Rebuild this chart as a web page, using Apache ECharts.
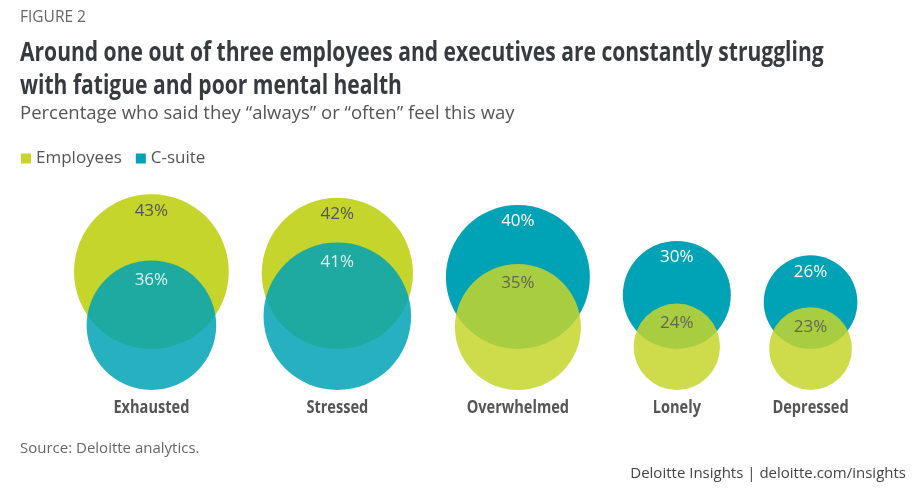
<!doctype html>
<html>
<head>
<meta charset="utf-8">
<title>Fatigue and mental health</title>
<script src="https://cdn.jsdelivr.net/npm/echarts@6/dist/echarts.min.js"></script>
</head>
<body style="margin:0;padding:0;background:#fff">
<div id="chart" style="width:913px;height:502px"></div>
<script>
var categories = ['Exhausted', 'Stressed', 'Overwhelmed', 'Lonely', 'Depressed'];
var employees = [43, 42, 35, 24, 23];
var csuite = [36, 41, 40, 30, 26];

// 1 axis unit = 1.8px, so a circle's radius in units is its value
var PX = 1.8;
var GAP = 18.3;   // space between pairs, in units
var LIFT = 22.8;  // bottom of the back circle sits this far above the baseline
var GREEN = '#c5d52b', TEAL = '#00a2b5';
var SANS = "'Open Sans', sans-serif";
var SQUEEZE = 0.81; // no condensed face installed, so bold text is narrowed

// x centre of each pair, packed left to right by the larger circle
var centers = [], xEnd = 0;
categories.forEach(function (c, i) {
    var m = Math.max(employees[i], csuite[i]);
    centers.push(xEnd + m);
    xEnd += 2 * m + GAP;
});
xEnd -= GAP;
var yMax = 120;

function points(values, other, front) {
    var out = [];
    values.forEach(function (v, i) {
        var isBack = v > other[i];
        if (isBack === front) return;
        out.push({ value: [centers[i], front ? v : LIFT + v, v] });
    });
    return out;
}

function circles(name, values, other, front, color, textColor) {
    return {
        name: name,
        type: 'scatter',
        z: front ? 3 : 2,
        data: points(values, other, front),
        symbolSize: function (val) { return val[2] * 2 * PX; },
        itemStyle: { color: color, opacity: front ? 0.85 : 1 },
        label: {
            show: true,
            position: 'insideTop',
            distance: front ? 11 : 8,
            formatter: function (p) { return p.value[2] + '%'; },
            color: textColor,
            fontSize: 17,
            fontFamily: SANS
        },
        emphasis: { disabled: true }
    };
}

var chart = echarts.init(document.getElementById('chart'));
chart.setOption({
    animation: false,
    backgroundColor: '#fff',
    title: [
        { text: 'FIGURE 2', left: 20, top: 10, padding: 0,
          textStyle: { fontSize: 15.5, fontWeight: 'normal', color: '#666', fontFamily: SANS } },
        { text: 'Percentage who said they \u201calways\u201d or \u201coften\u201d feel this way', left: 20, top: 104, padding: 0,
          textStyle: { fontSize: 18.5, fontWeight: 'normal', color: '#555', fontFamily: SANS } },
        { text: 'Source: Deloitte analytics.', left: 20, top: 441, padding: 0,
          textStyle: { fontSize: 15, fontWeight: 'normal', color: '#666', fontFamily: SANS } },
        { text: 'Deloitte Insights | deloitte.com/insights', right: 7, top: 466, padding: 0,
          textStyle: { fontSize: 15, fontWeight: 'normal', color: '#444', fontFamily: SANS } }
    ],
    legend: {
        left: 16, top: 145,
        icon: 'rect', itemWidth: 10, itemHeight: 10, itemGap: 14,
        data: ['Employees', 'C-suite'],
        textStyle: { fontSize: 17, color: '#555', fontFamily: SANS }
    },
    grid: { left: 74, top: 390 - yMax * PX, width: xEnd * PX, height: yMax * PX },
    xAxis: { type: 'value', min: 0, max: xEnd, show: false },
    yAxis: { type: 'value', min: 0, max: yMax, show: false },
    color: [GREEN, TEAL],
    series: [
        circles('Employees', employees, csuite, false, GREEN, '#555'),
        circles('C-suite', csuite, employees, false, TEAL, '#fff'),
        circles('Employees', employees, csuite, true, GREEN, '#555'),
        circles('C-suite', csuite, employees, true, TEAL, '#fff')
    ]
});

// headline and category names, narrowed horizontally
var texts = [{
    type: 'text', x: 20, y: 37, scaleX: SQUEEZE,
    style: {
        text: 'Around one out of three employees and executives are constantly struggling\nwith fatigue and poor mental health',
        font: 'bold 26px ' + SANS, lineHeight: 33, fill: '#363b40'
    }
}];
categories.forEach(function (c, i) {
    var p = chart.convertToPixel({ gridIndex: 0 }, [centers[i], 0]);
    texts.push({
        type: 'text', x: p[0], y: p[1] + 9, scaleX: SQUEEZE,
        style: { text: c, font: 'bold 18px ' + SANS, fill: '#555', align: 'center', verticalAlign: 'top' }
    });
});
chart.setOption({ graphic: texts });
</script>
</body>
</html>
